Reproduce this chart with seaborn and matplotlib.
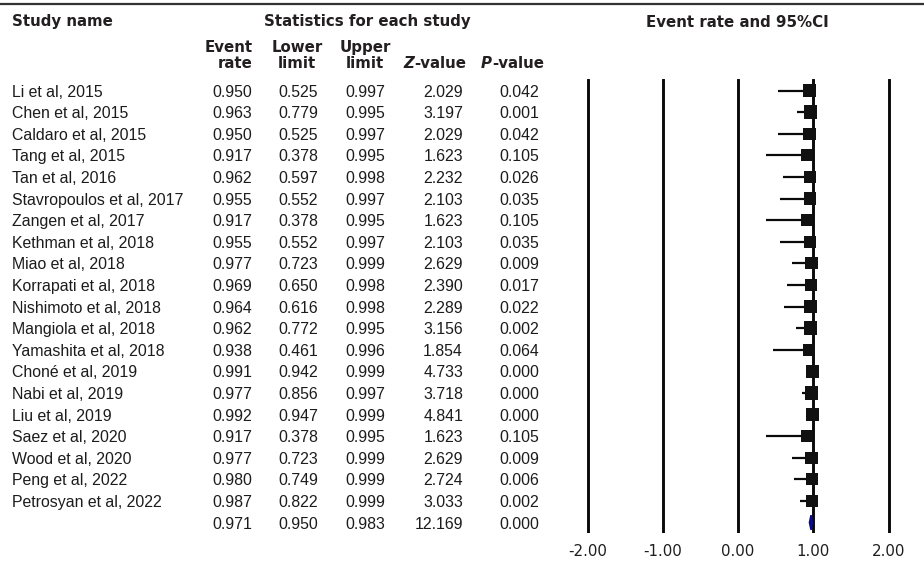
import numpy as np
import pandas as pd
import matplotlib
matplotlib.use("Agg")
import matplotlib.pyplot as plt
import seaborn as sns
from matplotlib.lines import Line2D

# ---- study-level results -------------------------------------------------
studies = [
    "Li et al, 2015", "Chen et al, 2015", "Caldaro et al, 2015", "Tang et al, 2015",
    "Tan et al, 2016", "Stavropoulos et al, 2017", "Zangen et al, 2017",
    "Kethman et al, 2018", "Miao et al, 2018", "Korrapati et al, 2018",
    "Nishimoto et al, 2018", "Mangiola et al, 2018", "Yamashita et al, 2018",
    "Choné et al, 2019", "Nabi et al, 2019", "Liu et al, 2019", "Saez et al, 2020",
    "Wood et al, 2020", "Peng et al, 2022", "Petrosyan et al, 2022",
]
event_rate = [0.950, 0.963, 0.950, 0.917, 0.962, 0.955, 0.917, 0.955, 0.977, 0.969,
              0.964, 0.962, 0.938, 0.991, 0.977, 0.992, 0.917, 0.977, 0.980, 0.987]
lower_limit = [0.525, 0.779, 0.525, 0.378, 0.597, 0.552, 0.378, 0.552, 0.723, 0.650,
               0.616, 0.772, 0.461, 0.942, 0.856, 0.947, 0.378, 0.723, 0.749, 0.822]
upper_limit = [0.997, 0.995, 0.997, 0.995, 0.998, 0.997, 0.995, 0.997, 0.999, 0.998,
               0.998, 0.995, 0.996, 0.999, 0.997, 0.999, 0.995, 0.999, 0.999, 0.999]
z_value = [2.029, 3.197, 2.029, 1.623, 2.232, 2.103, 1.623, 2.103, 2.629, 2.390,
           2.289, 3.156, 1.854, 4.733, 3.718, 4.841, 1.623, 2.629, 2.724, 3.033]
p_value = [0.042, 0.001, 0.042, 0.105, 0.026, 0.035, 0.105, 0.035, 0.009, 0.017,
           0.022, 0.002, 0.064, 0.000, 0.000, 0.000, 0.105, 0.009, 0.006, 0.002]

# ---- pooled estimate ------------------------------------------------------
pooled_rate = 0.971
pooled_lower = 0.950
pooled_upper = 0.983
pooled_z = 12.169
pooled_p = 0.000

x_ticks = [-2.0, -1.0, 0.0, 1.0, 2.0]

df = pd.DataFrame({
    "study": studies, "rate": event_rate, "lower": lower_limit,
    "upper": upper_limit, "z": z_value, "p": p_value,
})
df["row"] = np.arange(len(df))
pooled_row = len(df)

# study weight from the logit-scale standard error (se = logit(rate) / z)
logit = np.log(df["rate"] / (1 - df["rate"]))
se = logit / df["z"]
w = 1.0 / se ** 2
side_px = 13.6 * (w / w.max()) ** 0.15
df["msize"] = (side_px * 0.72) ** 2

# ---- figure ---------------------------------------------------------------
W, H = 924, 567
sns.set_theme(style="white")
plt.rcParams["font.family"] = ["Liberation Sans", "DejaVu Sans"]
fig = plt.figure(figsize=(W / 100, H / 100), dpi=100)


def fx(px):
    return px / W


def fy(py):
    return 1 - py / H


row0_px, row_step = 90.5, 21.6
top_px, bot_px = 79, 533
y_top = (top_px - row0_px) / row_step
y_bot = (bot_px - row0_px) / row_step

# forest panel: x in event-rate units, zero at 738 px, 75.25 px per unit
left_px, right_px = 560, 924
x0_px, unit_px = 738, 75.25
ax = fig.add_axes([fx(left_px), fy(bot_px), fx(right_px - left_px), (bot_px - top_px) / H])
ax.set_xlim((left_px - x0_px) / unit_px, (right_px - x0_px) / unit_px)
ax.set_ylim(y_bot, y_top)

# table panel shares the row scale
axt = fig.add_axes([0, fy(bot_px), fx(left_px), (bot_px - top_px) / H], sharey=ax)
axt.set_xlim(0, left_px)
axt.axis("off")

for s in ax.spines.values():
    s.set_visible(False)
ax.set_yticks([])
ax.set_xticks(x_ticks)
ax.set_xticklabels([f"{t:.2f}" for t in x_ticks], fontsize=10.8,
                   family="DejaVu Sans", color="#1e1e1e")
ax.tick_params(axis="x", length=0, pad=8)
ax.set_axisbelow(True)
ax.grid(axis="x", color="#0a0a0a", linewidth=2.1)
ax.grid(axis="y", visible=False)

# confidence intervals and study markers
ax.hlines(df["row"], df["lower"], df["upper"], color="#0a0a0a", linewidth=1.6, zorder=2)
sns.scatterplot(data=df, x="rate", y="row", marker="s", s=df["msize"].values,
                color="#111111", linewidth=0, ax=ax, zorder=3, legend=False)
ax.set_xlabel("")
ax.set_ylabel("")

# pooled diamond
half_h = 0.34
ax.fill([pooled_lower, pooled_rate, pooled_upper, pooled_rate],
        [pooled_row, pooled_row - half_h, pooled_row, pooled_row + half_h],
        facecolor="#0a0a9a", edgecolor="#0a0a9a", linewidth=1.2, zorder=4,
        clip_on=False)

# ---- table text -------------------------------------------------------------
txt_kw = dict(fontsize=11.4, color="#1c1c1c", va="baseline")
base_off = 0.28
col_right = {"rate": 252, "lower": 318, "upper": 385, "z": 463, "p": 539}
for _, r in df.iterrows():
    y = r["row"] + base_off
    axt.text(12, y, r["study"], ha="left", **txt_kw)
    for key in ["rate", "lower", "upper", "z", "p"]:
        axt.text(col_right[key], y, f"{r[key]:.3f}", ha="right", **txt_kw)

y = pooled_row + base_off
for key, val in zip(["rate", "lower", "upper", "z", "p"],
                    [pooled_rate, pooled_lower, pooled_upper, pooled_z, pooled_p]):
    axt.text(col_right[key], y, f"{val:.3f}", ha="right", **txt_kw)

# ---- headers ----------------------------------------------------------------
hd = dict(fontsize=10.8, fontweight="bold", family="DejaVu Sans", color="#231f20",
          va="baseline", transform=fig.transFigure)
fig.text(fx(12), fy(26), "Study name", ha="left", **hd)
fig.text(fx(367), fy(26), "Statistics for each study", ha="center", **hd)
fig.text(fx(737), fy(27), "Event rate and 95%CI", ha="center", **hd)
fig.text(fx(253), fy(52), "Event", ha="right", **hd)
fig.text(fx(253), fy(68), "rate", ha="right", **hd)
fig.text(fx(297), fy(52), "Lower", ha="center", **hd)
fig.text(fx(297), fy(68), "limit", ha="center", **hd)
fig.text(fx(365), fy(52), "Upper", ha="center", **hd)
fig.text(fx(365), fy(68), "limit", ha="center", **hd)
fig.text(fx(414), fy(68), "Z", ha="right", style="italic", **hd)
fig.text(fx(414), fy(68), "-value", ha="left", **hd)
fig.text(fx(492), fy(68), "P", ha="right", style="italic", **hd)
fig.text(fx(492), fy(68), "-value", ha="left", **hd)

# rule across the top
fig.add_artist(Line2D([0, 1], [fy(3.5), fy(3.5)], color="#333333", linewidth=1.6,
                      transform=fig.transFigure))

fig.savefig("out.png", dpi=100)
